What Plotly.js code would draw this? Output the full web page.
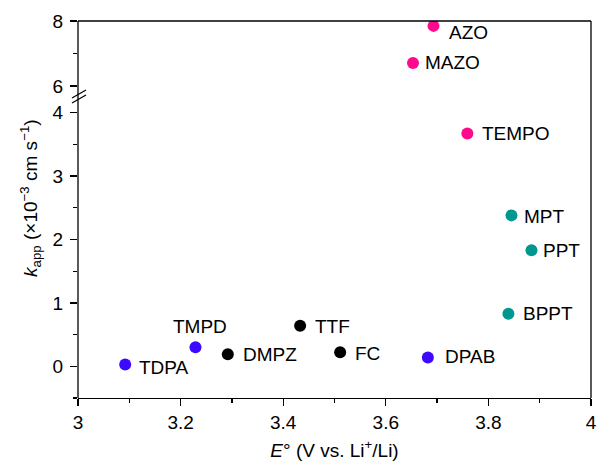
<!DOCTYPE html>
<html>
<head>
<meta charset="utf-8">
<script src="https://cdn.plot.ly/plotly-3.0.1.min.js"></script>
<style>html,body{margin:0;padding:0;background:#fff;}#chart{width:597px;height:462px;}</style>
</head>
<body>
<div id="chart"></div>
<script>
// ---- data ----
var names   = ["AZO","MAZO","TEMPO","MPT","PPT","BPPT","DPAB","FC","TTF","DMPZ","TMPD","TDPA"];
var E0      = [3.693,3.653,3.759,3.845,3.884,3.839,3.682,3.511,3.433,3.292,3.229,3.092];
var kapp    = [7.85,6.71,3.67,2.38,1.83,0.83,0.14,0.22,0.64,0.19,0.30,0.03];
var groups  = ["azo","azo","azo","pt","pt","pt","amine","other","other","other","amine","amine"];
var groupColors = {azo:"#ff0a8c", pt:"#00978f", amine:"#3d0aff", other:"#000000"};
var breakLow = 4.2, breakHigh = 5.816;

// label offsets (px, right/down) for each label
var labelDx = [13,10,13,11,10,13,15,13,13,13,5,12];
var labelDy = [7,0,0,1,0,0,-1,1,1,0,-21,3];
var labelAnchor = ["left","left","left","left","left","left","left","left","left","left","center","left"];

var FONT = "Liberation Sans, Arial, Helvetica, sans-serif";
var LSIZE = 19, TSIZE = 19;
var traces = [];
Object.keys(groupColors).forEach(function(g){
  ["y","y2"].forEach(function(ax){
    var xs=[], ys=[];
    for (var i=0;i<names.length;i++){
      var upper = kapp[i] > 5;
      if (groups[i]===g && ((ax==="y2")===upper)) { xs.push(E0[i]); ys.push(kapp[i]); }
    }
    if (xs.length) traces.push({x:xs,y:ys,yaxis:ax,type:"scatter",mode:"markers",
      marker:{size:12,color:groupColors[g]},hoverinfo:"skip",showlegend:false});
  });
});

var annotations = names.map(function(n,i){
  var upper = kapp[i] > 5;
  return {x:E0[i], y:kapp[i], xref:"x", yref: upper ? "y2":"y", text:n, showarrow:false,
    xanchor:labelAnchor[i], yanchor:"middle", xshift:labelDx[i], yshift:-labelDy[i],
    font:{family:FONT,size:LSIZE,color:"#000"}};
});
annotations.push({xref:"paper",yref:"paper",x:-0.094,y:0.53,textangle:-90,showarrow:false,
  xanchor:"center",yanchor:"middle",
  text:"<i>k</i><sub>app</sub> (×10<sup>−3</sup> cm s<sup>−1</sup>)",
  font:{family:FONT,size:TSIZE,color:"#000"}});

var axLine = {color:"#000", width:1.3};
var lowerTop = 0.7905, upperBot = 0.8117;
var layout = {
  width:597, height:462,
  margin:{l:78, r:6, t:21, b:64},
  paper_bgcolor:"#fff", plot_bgcolor:"#fff",
  font:{family:FONT,size:TSIZE,color:"#000"},
  xaxis:{range:[3,4], tickvals:[3,3.2,3.4,3.6,3.8,4], ticktext:["3","3.2","3.4","3.6","3.8","4"],
    ticks:"outside", ticklen:7, tickwidth:1.3, tickcolor:"#000",
    minor:{tickvals:[3.1,3.3,3.5,3.7,3.9], ticks:"outside", ticklen:4, tickwidth:1.3, tickcolor:"#000"},
    showline:true, linecolor:"#000", linewidth:1.3, showgrid:false, zeroline:false,
    tickfont:{family:FONT,size:TSIZE},
    title:{text:"<i>E</i>° (V vs. Li<sup>+</sup>/Li)", font:{family:FONT,size:TSIZE}, standoff:11},
    anchor:"y"},
  yaxis:{domain:[0,lowerTop], range:[-0.5,breakLow], tickvals:[0,1,2,3,4],
    ticks:"outside", ticklen:7, tickwidth:1.3, tickcolor:"#000", ticklabelstandoff:3,
    minor:{tickvals:[-0.5,0.5,1.5,2.5,3.5], ticks:"outside", ticklen:4, tickwidth:1.3, tickcolor:"#000"},
    showline:false, showgrid:false, zeroline:false, tickfont:{family:FONT,size:TSIZE}},
  yaxis2:{domain:[upperBot,1], range:[breakHigh,8], tickvals:[6,8],
    ticks:"outside", ticklen:7, tickwidth:1.3, tickcolor:"#000", ticklabelstandoff:3,
    minor:{tickvals:[7], ticks:"outside", ticklen:4, tickwidth:1.3, tickcolor:"#000"},
    showline:false, showgrid:false, zeroline:false, tickfont:{family:FONT,size:TSIZE}, anchor:"x"},
  shapes:[
    {type:"line",xref:"paper",yref:"paper",x0:0,x1:0,y0:0,y1:1,line:axLine},
    {type:"line",xref:"paper",yref:"paper",x0:0,x1:1,y0:1,y1:1,line:axLine},
    {type:"line",xref:"paper",yref:"paper",x0:1,x1:1,y0:0,y1:1,line:axLine},
    {type:"line",xref:"paper",yref:"paper",x0:-6/513,x1:8/513,y0:(398-98)/377,y1:(398-90)/377,line:{color:"#000",width:1.2}},
    {type:"line",xref:"paper",yref:"paper",x0:-6/513,x1:8/513,y0:(398-103)/377,y1:(398-95)/377,line:{color:"#000",width:1.2}}
  ],
  annotations:annotations
};
Plotly.newPlot("chart", traces, layout, {displayModeBar:false, staticPlot:true});
</script>
</body>
</html>
